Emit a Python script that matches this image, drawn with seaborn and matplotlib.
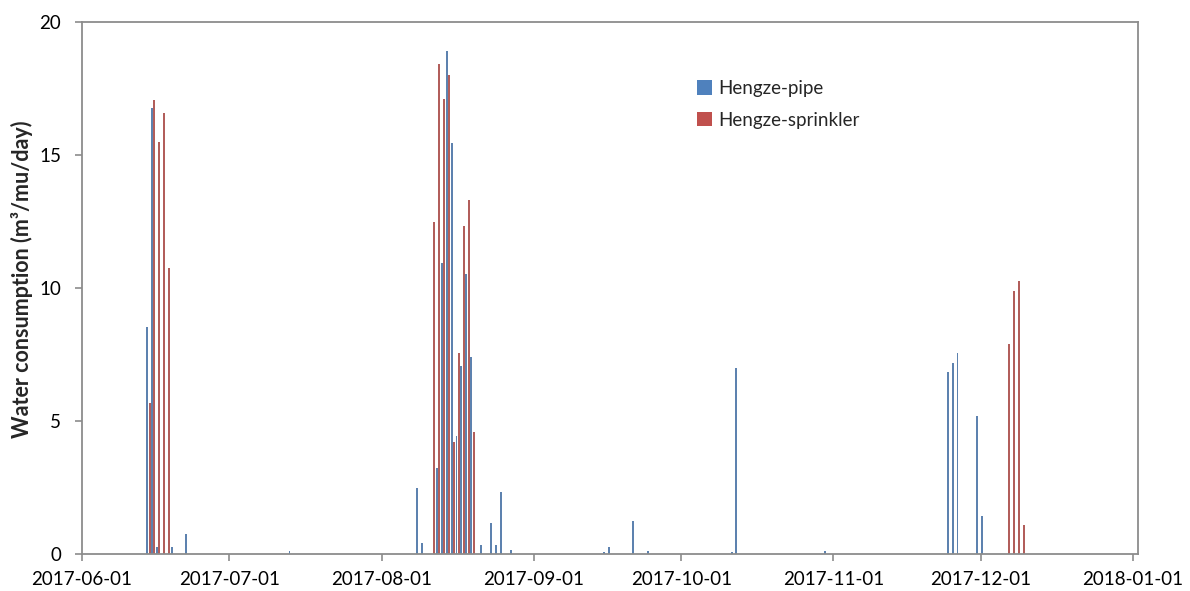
import numpy as np
import pandas as pd
import matplotlib
matplotlib.use("Agg")
import matplotlib.pyplot as plt
import matplotlib.dates as mdates
from matplotlib.patches import Patch
import seaborn as sns

# Daily water consumption, m3 per mu per day
pipe_dates = [
    "2017-06-14", "2017-06-15", "2017-06-16", "2017-06-19", "2017-06-22",
    "2017-07-13",
    "2017-08-08", "2017-08-09", "2017-08-12", "2017-08-13", "2017-08-14",
    "2017-08-15", "2017-08-16", "2017-08-17", "2017-08-18", "2017-08-19",
    "2017-08-21", "2017-08-23", "2017-08-24", "2017-08-25", "2017-08-27",
    "2017-09-15", "2017-09-16", "2017-09-21", "2017-09-24",
    "2017-10-11", "2017-10-12", "2017-10-30",
    "2017-11-24", "2017-11-25", "2017-11-26", "2017-11-30", "2017-12-01",
]
pipe_values = [
    8.52, 16.75, 0.25, 0.25, 0.75,
    0.13,
    2.49, 0.40, 3.25, 10.93, 18.90,
    15.44, 4.44, 7.07, 10.53, 7.40,
    0.34, 1.18, 0.34, 2.34, 0.15,
    0.07, 0.26, 1.24, 0.13,
    0.07, 6.98, 0.13,
    6.85, 7.19, 7.54, 5.19, 1.44,
]

sprinkler_dates = [
    "2017-06-14", "2017-06-15", "2017-06-16", "2017-06-17", "2017-06-18",
    "2017-08-11", "2017-08-12", "2017-08-13", "2017-08-14", "2017-08-15",
    "2017-08-16", "2017-08-17", "2017-08-18", "2017-08-19",
    "2017-12-06", "2017-12-07", "2017-12-08", "2017-12-09",
]
sprinkler_values = [
    5.66, 17.05, 15.50, 16.57, 10.74,
    12.47, 18.42, 17.10, 18.00, 4.22,
    7.54, 12.33, 13.30, 4.57,
    7.89, 9.90, 10.25, 1.09,
]

series_names = ["Hengze-pipe", "Hengze-sprinkler"]
series_colors = ["#4F81BD", "#C0504D"]
y_ticks = [0, 5, 10, 15, 20]
x_start, x_end = "2017-06-01", "2018-01-02"

df = pd.concat([
    pd.DataFrame({"date": pd.to_datetime(pipe_dates), "value": pipe_values,
                  "series": series_names[0]}),
    pd.DataFrame({"date": pd.to_datetime(sprinkler_dates), "value": sprinkler_values,
                  "series": series_names[1]}),
], ignore_index=True)
# each day's bar sits in the middle of its day
df["x"] = mdates.date2num(df["date"] + pd.Timedelta(hours=12))

sns.set_style("white")
plt.rcParams["font.family"] = ["Lato", "DejaVu Sans"]

fig = plt.figure(figsize=(11.9, 5.91), dpi=100)
ax = fig.add_axes([82 / 1190, 1 - 554 / 591, (1138 - 82) / 1190, (554 - 22) / 591])

sns.barplot(data=df, x="x", y="value", hue="series", hue_order=series_names,
            palette=series_colors, native_scale=True, width=1.0, gap=0.2,
            dodge=True, errorbar=None, legend=False, linewidth=0, ax=ax)

ax.set_xlim(mdates.datestr2num(x_start), mdates.datestr2num(x_end))
ax.set_ylim(0, 20)
ax.set_yticks(y_ticks)
ax.xaxis.set_major_locator(mdates.MonthLocator())
ax.xaxis.set_major_formatter(mdates.DateFormatter("%Y-%m-%d"))

spine_color = "#8C8C8C"
for s in ax.spines.values():
    s.set_visible(True)
    s.set_color(spine_color)
    s.set_linewidth(1.3)

ax.tick_params(axis="both", which="major", direction="out", length=5, width=1.2,
               color=spine_color, labelsize=13.5, labelcolor="black")
ax.tick_params(axis="x", pad=7, bottom=True)
ax.tick_params(axis="y", pad=10, left=True)
ax.set_xlabel("")
ax.set_ylabel("Water consumption (m³/mu/day)", fontsize=15.5, fontweight="bold")
ax.yaxis.set_label_coords(-0.046, 0.517)

handles = [Patch(facecolor=c, edgecolor="none") for c in series_colors]
ax.legend(handles, series_names, loc="upper left", frameon=False,
          bbox_to_anchor=(697 / 1190, 1 - 80 / 591), bbox_transform=fig.transFigure,
          borderpad=0, borderaxespad=0, handlelength=0.78, handleheight=0.78,
          handletextpad=0.35, labelspacing=0.78, fontsize=13.5)

fig.savefig("out.png", dpi=100)
